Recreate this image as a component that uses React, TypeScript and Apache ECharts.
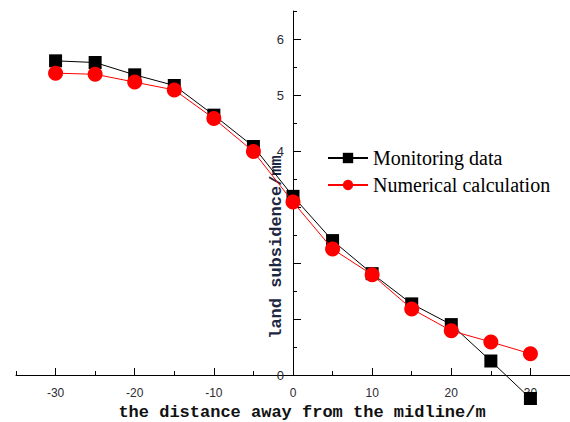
import React, { useEffect, useRef } from "react";
import * as echarts from "echarts";

const distances = [-30, -25, -20, -15, -10, -5, 0, 5, 10, 15, 20, 25, 30];
const monitoring = [5.61, 5.58, 5.36, 5.17, 4.64, 4.08, 3.19, 2.4, 1.81, 1.27, 0.9, 0.25, -0.42];
const numerical = [5.39, 5.37, 5.23, 5.09, 4.58, 3.99, 3.09, 2.25, 1.79, 1.18, 0.79, 0.59, 0.38];
const xMajorTicks = [-30, -20, -10, 0, 10, 20, 30];
const xMinorTicks = [-35, -25, -15, -5, 5, 15, 25, 35];
const yMajorTicks = [0, 1, 2, 3, 4, 5, 6];
const yLabelTicks = [0, 4, 5, 6];
const yMinorTicks = [0.5, 1.5, 2.5, 3.5, 4.5, 5.5, 6.5];
const xTitle = "the distance away from the midline/m";
const yTitle = "land subsidence/mm";
const seriesNames = ["Monitoring data", "Numerical calculation"];

export default function App() {
  const ref = useRef<HTMLDivElement>(null);
  useEffect(() => {
    if (!ref.current) return;
    const chart = echarts.init(ref.current, undefined, { renderer: "svg" });
    const labelStyle = { color: "#2b2b33", fontSize: 12, fontFamily: "Liberation Sans, Arial, sans-serif" };
    const gridLeft = 16;
    const gridWidth = 554;
    const yOffset = -(gridWidth / 2);
    chart.setOption({
      animation: false,
      backgroundColor: "#fff",
      grid: {
        left: gridLeft,
        width: gridWidth,
        top: 11,
        bottom: 47,
        containLabel: false,
        outerBoundsMode: "none",
      },
      legend: {
        orient: "vertical",
        left: 322,
        top: 143,
        itemWidth: 40,
        itemHeight: 13,
        itemGap: 7,
        data: seriesNames,
        textStyle: { fontFamily: "Liberation Serif, Times New Roman, serif", fontSize: 20, color: "#000" },
      },
      xAxis: [
        {
          type: "value",
          min: -35,
          max: 35,
          position: "bottom",
          axisLine: { show: true, onZero: false, lineStyle: { color: "#000", width: 1 } },
          axisTick: { show: true, inside: true, length: 7, customValues: xMajorTicks, lineStyle: { color: "#000" } },
          axisLabel: { show: true, margin: 12, customValues: xMajorTicks, ...labelStyle },
          splitLine: { show: false },
          name: xTitle,
          nameLocation: "middle",
          nameGap: 27,
          nameTextStyle: {
            fontFamily: "Liberation Mono, Courier New, monospace",
            fontWeight: "bold",
            fontSize: 17,
            color: "#111",
            padding: [0, 0, 0, 18],
          },
        },
        {
          type: "value",
          min: -35,
          max: 35,
          position: "bottom",
          offset: 0,
          axisLine: { show: false, onZero: false },
          axisTick: { show: true, inside: true, length: 4, customValues: xMinorTicks, lineStyle: { color: "#000" } },
          axisLabel: { show: false },
          splitLine: { show: false },
        },
      ],
      yAxis: [
        {
          type: "value",
          min: 0,
          max: 6.5,
          position: "left",
          offset: yOffset,
          axisLine: { show: true, onZero: false, lineStyle: { color: "#000", width: 1 } },
          axisTick: { show: true, inside: true, length: 8, customValues: yMajorTicks, lineStyle: { color: "#000" } },
          axisLabel: { show: true, margin: 9, customValues: yLabelTicks, ...labelStyle, fontSize: 13 },
          splitLine: { show: false },
        },
        {
          type: "value",
          min: 0,
          max: 6.5,
          position: "left",
          offset: yOffset,
          axisLine: { show: false, onZero: false },
          axisTick: { show: true, inside: true, length: 4, customValues: yMinorTicks, lineStyle: { color: "#000" } },
          axisLabel: { show: false },
          splitLine: { show: false },
        },
      ],
      graphic: [
        {
          type: "text",
          x: 276,
          y: 247,
          rotation: Math.PI / 2,
          z: 0,
          style: {
            text: yTitle,
            align: "center",
            verticalAlign: "middle",
            fill: "#1c2742",
            font: "bold 17px 'Liberation Mono', 'Courier New', monospace",
          },
        },
      ],
      series: [
        {
          name: seriesNames[0],
          type: "line",
          xAxisIndex: 0,
          yAxisIndex: 0,
          data: distances.map((d, i) => [d, monitoring[i]]),
          symbol: "rect",
          symbolSize: 13,
          clip: false,
          itemStyle: { color: "#000" },
          lineStyle: { color: "#000", width: 1 },
          z: 3,
        },
        {
          name: seriesNames[1],
          type: "line",
          xAxisIndex: 0,
          yAxisIndex: 0,
          data: distances.map((d, i) => [d, numerical[i]]),
          symbol: "circle",
          symbolSize: 15,
          clip: false,
          itemStyle: { color: "#ff0000" },
          lineStyle: { color: "#ff0000", width: 1 },
          z: 4,
        },
      ],
    });
    return () => chart.dispose();
  }, []);
  return (
    <div
      ref={ref}
      style={{ position: "fixed", left: 0, top: 0, width: 570, height: 422, background: "#fff" }}
    />
  );
}
